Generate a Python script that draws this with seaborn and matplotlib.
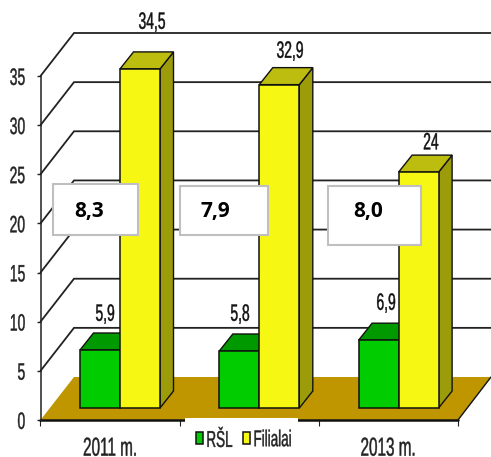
import matplotlib
matplotlib.use('Agg')
import matplotlib.pyplot as plt
import matplotlib.patheffects as pe
from matplotlib.patches import Polygon, Rectangle
from matplotlib.transforms import Affine2D
import pandas as pd
import seaborn as sns

# data
years = ['2011 m.', '2012 m.', '2013 m.']
rsl = [5.9, 5.8, 6.9]
filialai = [34.5, 32.9, 24.0]
box_labels = ['8,3', '7,9', '8,0']
y_ticks = [0, 5, 10, 15, 20, 25, 30, 35]

df = pd.DataFrame({
    'year': years * 2,
    'value': rsl + filialai,
    'series': ['RŠL'] * 3 + ['Filialai'] * 3,
})

W, H = 491, 457
sns.set_theme(style='white')
plt.rcParams['font.family'] = ['Liberation Sans', 'DejaVu Sans']


class StretchY(pe.AbstractPathEffect):
    # the original text is a tall narrow font, none installed, so stretch it
    def __init__(self, k):
        super().__init__()
        self.k = k

    def draw_path(self, renderer, gc, tpath, affine, rgbFace=None):
        b = tpath.get_extents()
        cy = (b.y0 + b.y1) / 2
        t = Affine2D().translate(0, -cy).scale(1, self.k).translate(0, cy)
        gc0 = renderer.new_gc()
        gc0.copy_properties(gc)
        gc0.set_foreground(rgbFace)
        gc0.set_linewidth(0.3)
        renderer.draw_path(gc0, tpath, t + affine, rgbFace)
        gc0.restore()


tall = [StretchY(1.7)]

fig = plt.figure(figsize=(W / 100, H / 100), dpi=100)
ax = fig.add_axes([40.5 / W, (H - 420) / H, 417.5 / W, 344 / H])

# pixels per data unit
sx = 139.3
sy = 344 / 35


def px(x, y):
    # picture pixels to data coordinates
    return (x - 120) / sx, (420 - y) / sy


colors = {'RŠL': '#00CC00', 'Filialai': '#F7F714'}
sns.barplot(data=df, x='year', y='value', hue='series', order=years,
            hue_order=['RŠL', 'Filialai'], palette=colors, saturation=1, width=80 / sx,
            gap=0, errorbar=None, edgecolor='#111111', linewidth=1.1,
            zorder=4, ax=ax, legend=True)

ax.set_xlim(px(40.5, 0)[0], px(458, 0)[0])
ax.set_ylim(0, 35)
ax.set_xlabel('')
ax.set_ylabel('')

# walls and floor
wall_dx, wall_dy = 33.5 / sx, 43 / sy
right = px(491, 0)[0]
left = ax.get_xlim()[0]
for v in y_ticks[1:]:
    ax.plot([left, left + wall_dx, right], [v, v + wall_dy, v + wall_dy],
            color='#222222', lw=1.3, clip_on=False, zorder=1,
            solid_joinstyle='miter')
floor = [px(40.5, 420), px(74, 377), px(491, 377), px(458, 420)]
ax.add_patch(Polygon(floor, closed=True, fc='#BF9600', ec='none', clip_on=False, zorder=2))
ax.plot(*zip(px(40.5, 420), px(458, 420)), color='#111111', lw=1.8, clip_on=False, zorder=3)
ax.plot(*zip(px(458, 420), px(491, 377)), color='#111111', lw=1, clip_on=False, zorder=3)

# bars stand on the floor, with depth faces
base = 12 / sy
bar_dx, bar_dy = 13.5 / sx, 17 / sy
side_cols = {'RŠL': '#007F00', 'Filialai': '#9C9C0A'}
top_cols = {'RŠL': '#009900', 'Filialai': '#BDBD10'}
for container, name in zip(ax.containers, ['RŠL', 'Filialai']):
    z = 3 if name == 'RŠL' else 4
    for p in container:
        p.set_y(base)
        p.set_zorder(z + 0.5)
        p.set_clip_on(False)
        x0, x1 = p.get_x(), p.get_x() + p.get_width()
        y0, y1 = p.get_y(), p.get_y() + p.get_height()
        top = [(x0, y1), (x1, y1), (x1 + bar_dx, y1 + bar_dy), (x0 + bar_dx, y1 + bar_dy)]
        side = [(x1, y0), (x1 + bar_dx, y0 + bar_dy), (x1 + bar_dx, y1 + bar_dy), (x1, y1)]
        ax.add_patch(Polygon(side, closed=True, fc=side_cols[name], ec='#111111', lw=1,
                             zorder=z, clip_on=False))
        ax.add_patch(Polygon(top, closed=True, fc=top_cols[name], ec='#111111', lw=1,
                             zorder=z, clip_on=False))

# value labels
label_pos = [(105, 314), (240, 314), (386, 303), (152, 22), (290, 51), (431, 142)]
for val, (lx, ly) in zip(rsl + filialai, label_pos):
    ax.text(*px(lx, ly), f'{val:g}'.replace('.', ','), ha='center', va='center',
            fontsize=10, color='#111111', clip_on=False, zorder=6, path_effects=tall)

# axes
sns.despine(ax=ax, bottom=True, top=True, right=True)
ax.spines['left'].set_color('#222222')
ax.spines['left'].set_linewidth(1.1)
ax.spines['left'].set_zorder(3)
ax.set_yticks(y_ticks)
ax.tick_params(axis='y', left=True, length=3, width=1, color='#222222', pad=8,
               labelsize=10, labelcolor='#222222')
for t in ax.get_yticklabels():
    t.set_path_effects(tall)
edges = [px(x, 0)[0] for x in (40.5, 180, 319, 458)]
ax.set_xticks(edges)
ax.set_xticklabels([])
ax.tick_params(axis='x', bottom=True, length=4.5, width=0.8, color='#222222')
for name, x in zip(years, (110, None, 388)):
    if x is not None:
        ax.text(px(x, 0)[0], px(0, 448)[1], name, ha='center', va='center',
                fontsize=11, color='#222222', clip_on=False, path_effects=tall)

# white boxes
boxes = [(53, 184, 85, 51, 89), (179.5, 186, 88.5, 49, 215), (328, 186, 93, 59, 368)]
for (bx, by, bw, bh, tx), label in zip(boxes, box_labels):
    fig.add_artist(Rectangle((bx / W, 1 - (by + bh) / H), bw / W, bh / H, fc='white',
                             ec='#BFBFBF', lw=1.5, transform=fig.transFigure, zorder=8))
    fig.text(tx / W, 1 - 212 / H, label, ha='center', va='center', fontsize=15,
             fontweight='bold', family=['Open Sans', 'DejaVu Sans'], color='black', zorder=9)

# legend, its white patch hides the front of the floor
ax.add_patch(Rectangle(px(185, 456), 113 / sx, 38 / sy, fc='white', ec='none',
                       clip_on=False, zorder=6.5))
handles, labels = ax.get_legend_handles_labels()
leg = ax.legend(handles, labels, ncol=2, frameon=False, loc='center',
                bbox_to_anchor=(244 / W, 1 - 439 / H), bbox_transform=fig.transFigure,
                fontsize=9.7, handlelength=0.5, handleheight=1.0, handletextpad=0.25,
                columnspacing=0.8, borderaxespad=0, borderpad=0, labelcolor='#222222')
leg.set_zorder(7)
for t in leg.get_texts():
    t.set_path_effects(tall)

fig.savefig('out.png', dpi=100)
